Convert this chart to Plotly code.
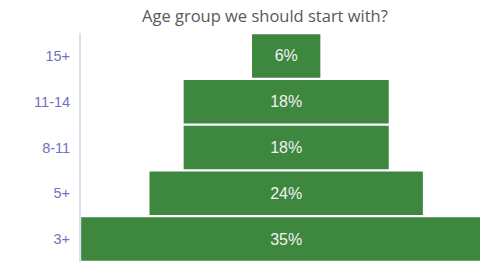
import plotly.graph_objects as go

categories = ["15+", "11-14", "8-11", "5+", "3+"]
values = [5.88, 17.65, 17.65, 23.53, 35.29]
labels = ["6%", "18%", "18%", "24%", "35%"]

fig = go.Figure(go.Funnel(
    y=categories,
    x=values,
    text=labels,
    textinfo="text",
    textposition="inside",
    insidetextanchor="middle",
    insidetextfont=dict(family="Liberation Sans, Arial", size=16, color="#f2f2f2"),
    marker=dict(color="#3e873e", line=dict(width=0)),
    connector=dict(visible=False),
    hoverinfo="skip",
))

fig.update_layout(
    width=480, height=262,
    margin=dict(l=81, r=0, t=33, b=0, pad=0, autoexpand=False),
    paper_bgcolor="white", plot_bgcolor="white",
    showlegend=False,
    funnelgap=0.05,
    title=dict(
        text="Age group we should start with?",
        x=0.461, xanchor="center", xref="paper",
        y=1 - 16 / 262, yanchor="middle", yref="container",
        font=dict(family="Open Sans, Noto Sans", size=16.5, color="#595959"),
    ),
    xaxis=dict(visible=False, range=[-17.66, 16.68], fixedrange=True, automargin=False),
    yaxis=dict(
        automargin=False, fixedrange=True,
        showline=True, linecolor="#dcdcf2", linewidth=2,
        showgrid=False, zeroline=False,
        ticks="outside", ticklen=6, tickcolor="rgba(0,0,0,0)",
        tickfont=dict(family="Liberation Sans, Arial", size=14.5, color="#7070c0"),
    ),
)

fig.write_html("out.html", config={"displayModeBar": False},
               post_script="document.body.style.margin='0';")
